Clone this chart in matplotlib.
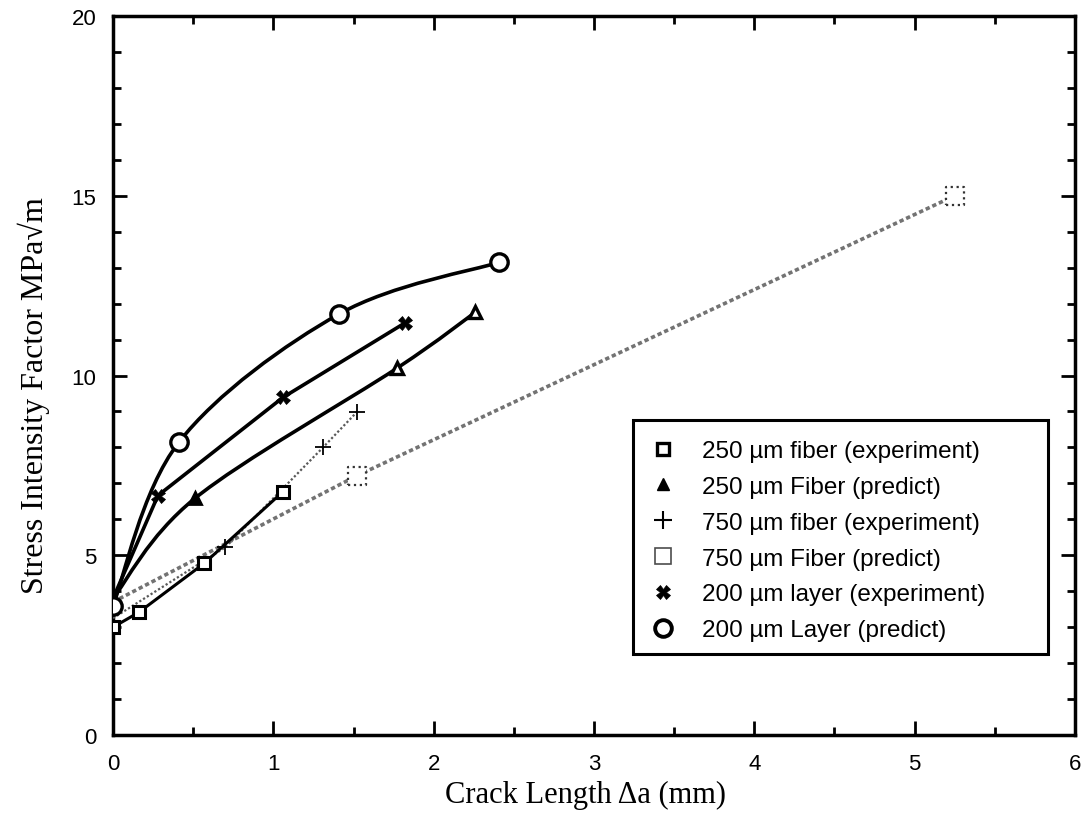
import numpy as np
import matplotlib
matplotlib.use("Agg")
import matplotlib.pyplot as plt
from matplotlib.path import Path
from matplotlib.patches import PathPatch, Rectangle
from matplotlib.lines import Line2D
from matplotlib.ticker import MultipleLocator

# ---- data ----
fib250_exp_x = [0.0, 0.16, 0.57, 1.06]
fib250_exp_y = [3.0, 3.41, 4.78, 6.77]

fib250_pred_x = [0.0, 0.51, 1.77, 2.26]
fib250_pred_y = [3.8, 6.58, 10.2, 11.76]

fib750_exp_x = [0.0, 0.70, 1.31, 1.52]
fib750_exp_y = [3.25, 5.22, 8.0, 8.98]

fib750_pred_x = [0.0, 1.52, 5.25]
fib750_pred_y = [3.7, 7.21, 15.0]

lay200_exp_x = [0.0, 0.28, 1.06, 1.82]
lay200_exp_y = [3.8, 6.66, 9.39, 11.46]

lay200_pred_x = [0.0, 0.41, 1.41, 2.41]
lay200_pred_y = [3.6, 8.14, 11.71, 13.15]

labels = ["250 \u00b5m fiber (experiment)", "250 \u00b5m Fiber (predict)",
          "750 \u00b5m fiber (experiment)", "750 \u00b5m Fiber (predict)",
          "200 \u00b5m layer (experiment)", "200 \u00b5m Layer (predict)"]

x_label = "Crack Length \u0394a (mm)"
y_label = "Stress Intensity Factor MPa\u221am"


def smooth_path(xs, ys):
    pts = np.column_stack([xs, ys]).astype(float)
    n = len(pts)
    verts = [pts[0]]
    codes = [Path.MOVETO]
    for i in range(n - 1):
        p0 = pts[i - 1] if i > 0 else pts[i]
        p1 = pts[i]
        p2 = pts[i + 1]
        p3 = pts[i + 2] if i + 2 < n else pts[i + 1]
        c1 = p1 + (p2 - p0) / 6.0
        c2 = p2 - (p3 - p1) / 6.0
        verts += [c1, c2, p2]
        codes += [Path.CURVE4] * 3
    return Path(verts, codes)


fig = plt.figure(figsize=(10.9, 8.2), dpi=100)
ax = fig.add_axes([0.1037, 0.1024, 0.8825, 0.8769])

# 750 predict (gray dotted band)
ax.plot(fib750_pred_x, fib750_pred_y, color="0.45", lw=2.6, ls=(0, (1.2, 0.8)), zorder=2)
ax.scatter(fib750_pred_x[1:], fib750_pred_y[1:], marker="s", s=170, facecolors="white",
           edgecolors="0.2", linewidths=1.6, linestyles=":", zorder=4)

# 750 experiment
ax.plot(fib750_exp_x, fib750_exp_y, color="0.35", lw=1.6, ls=(0, (1, 1)), zorder=3)
ax.plot(fib750_exp_x[1:], fib750_exp_y[1:], ls="none", marker="+", ms=12, mew=1.3,
        color="black", zorder=5)

# 250 experiment
ax.plot(fib250_exp_x, fib250_exp_y, color="black", lw=2.2, marker="s", ms=9, mew=2.2,
        mfc="white", mec="black", zorder=5)

# 250 predict
ax.add_patch(PathPatch(smooth_path(fib250_pred_x, fib250_pred_y), fill=False, lw=2.6,
                       ec="black", zorder=3))
ax.plot(fib250_pred_x[1:2], fib250_pred_y[1:2], ls="none", marker="^", ms=8.5, mew=2,
        mfc="black", mec="black", zorder=5)
ax.plot(fib250_pred_x[2:], fib250_pred_y[2:], ls="none", marker="^", ms=8.5, mew=2.4,
        mfc="white", mec="black", zorder=5)

# 200 experiment
ax.plot(lay200_exp_x, lay200_exp_y, color="black", lw=2.6, zorder=3)
ax.plot(lay200_exp_x[1:], lay200_exp_y[1:], ls="none", marker="X", ms=9.5, mew=0.5,
        color="black", zorder=5)

# 200 predict
ax.add_patch(PathPatch(smooth_path(lay200_pred_x, lay200_pred_y), fill=False, lw=2.6,
                       ec="black", zorder=3))
ax.plot(lay200_pred_x, lay200_pred_y, ls="none", marker="o", ms=12.5, mew=2.4,
        mfc="white", mec="black", zorder=6)

ax.set_xlim(0, 6)
ax.set_ylim(0, 20)
ax.xaxis.set_major_locator(MultipleLocator(1))
ax.xaxis.set_minor_locator(MultipleLocator(0.5))
ax.yaxis.set_major_locator(MultipleLocator(5))
ax.yaxis.set_minor_locator(MultipleLocator(1))
ax.tick_params(which="both", direction="in", top=True, right=True, width=2, color="black")
ax.tick_params(which="major", length=10, labelsize=16)
ax.tick_params(axis="x", which="major", pad=13)
ax.tick_params(axis="y", which="major", pad=12)
ax.tick_params(which="minor", length=6)
for lab in ax.get_xticklabels() + ax.get_yticklabels():
    lab.set_family("Liberation Sans")
for s in ax.spines.values():
    s.set_linewidth(2.5)

ax.set_xlabel(x_label, family="Liberation Serif", fontsize=22)
ax.set_ylabel(y_label, family="Liberation Serif", fontsize=23)
ax.xaxis.set_label_coords(0.491, -0.063)
ax.yaxis.set_label_coords(-0.0655, 0.473)

handles = [
    Line2D([], [], ls="none", marker="s", ms=8, mew=2.4, mfc="white", mec="black"),
    Line2D([], [], ls="none", marker="^", ms=9, mfc="black", mec="black"),
    Line2D([], [], ls="none", marker="+", ms=13, mew=1.5, color="black"),
    Line2D([], [], ls="none", marker="s", ms=12, mew=1.2, mfc="white", mec="0.3"),
    Line2D([], [], ls="none", marker="X", ms=10, mew=0.5, color="black"),
    Line2D([], [], ls="none", marker="o", ms=12, mew=2.8, mfc="white", mec="black"),
]
leg = ax.legend(handles, labels, loc="upper left", bbox_to_anchor=(0.5593, 0.4103),
                frameon=False, prop={"family": "Liberation Sans", "size": 17.5},
                handlelength=1.0, handletextpad=1.1, labelspacing=0.57, borderpad=0,
                borderaxespad=0)
ax.add_patch(Rectangle((0.5405, 0.1127), 0.972 - 0.5405, 0.438 - 0.1127,
                       transform=ax.transAxes, fill=True, fc="white", ec="black",
                       lw=2.2, zorder=7))
leg.set_zorder(8)

fig.savefig("out.png", dpi=100)
